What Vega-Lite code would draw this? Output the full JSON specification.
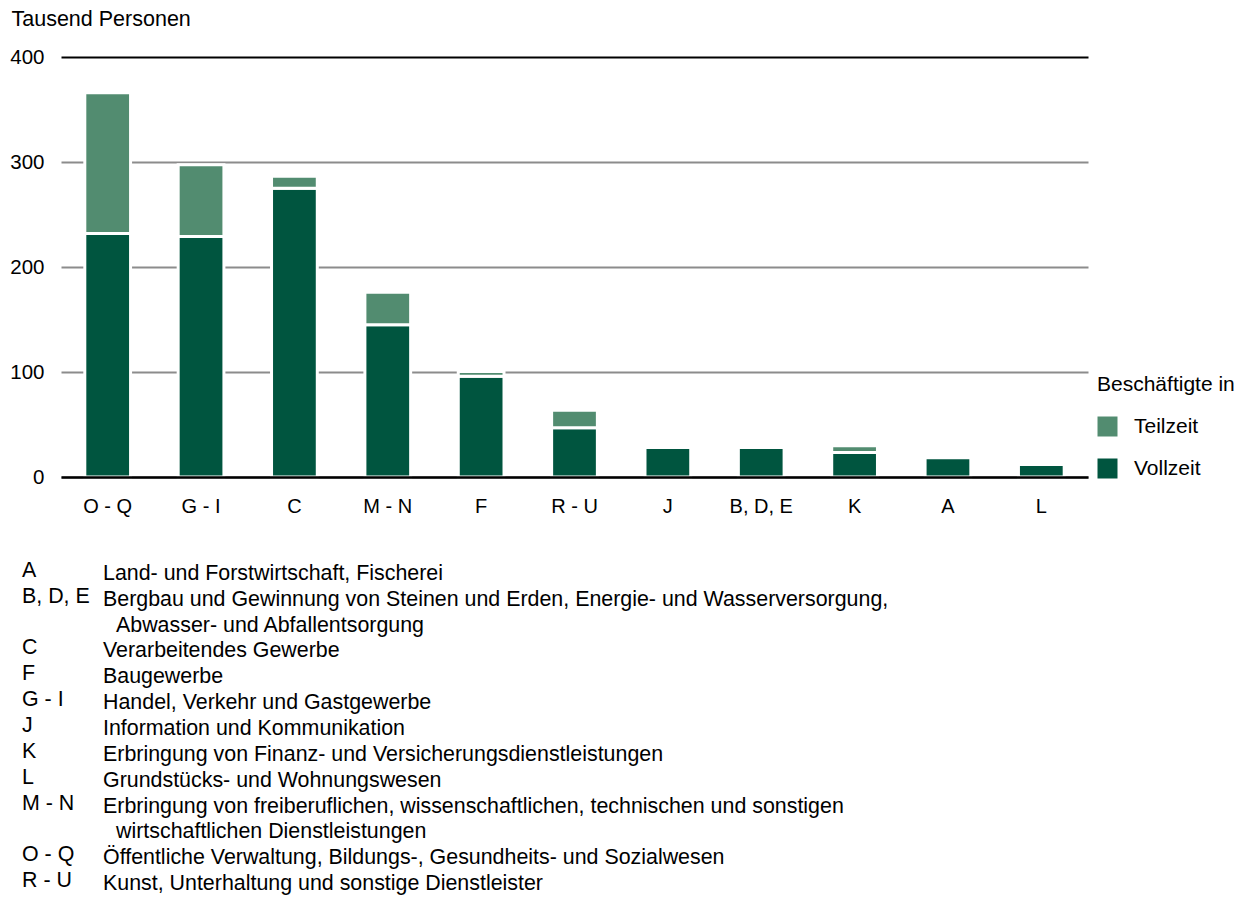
{
  "$schema": "https://vega.github.io/schema/vega-lite/v6.json",
  "padding": {"left": 9, "top": 8, "right": 0, "bottom": 0},
  "spacing": 43,
  "config": {
    "font": "Liberation Sans",
    "view": {"stroke": null},
    "text": {"font": "Liberation Sans"}
  },
  "vconcat": [
    {
      "width": 1027,
      "height": 420,
      "data": {
        "values": [
          {"sector": "O - Q", "type": "Vollzeit", "value": 232},
          {"sector": "O - Q", "type": "Teilzeit", "value": 134},
          {"sector": "G - I", "type": "Vollzeit", "value": 229},
          {"sector": "G - I", "type": "Teilzeit", "value": 68.5},
          {"sector": "C", "type": "Vollzeit", "value": 275},
          {"sector": "C", "type": "Teilzeit", "value": 11.5},
          {"sector": "M - N", "type": "Vollzeit", "value": 145},
          {"sector": "M - N", "type": "Teilzeit", "value": 31},
          {"sector": "F", "type": "Vollzeit", "value": 96},
          {"sector": "F", "type": "Teilzeit", "value": 4.5},
          {"sector": "R - U", "type": "Vollzeit", "value": 47},
          {"sector": "R - U", "type": "Teilzeit", "value": 16.5},
          {"sector": "J", "type": "Vollzeit", "value": 28},
          {"sector": "B, D, E", "type": "Vollzeit", "value": 28.2},
          {"sector": "K", "type": "Vollzeit", "value": 23.4},
          {"sector": "K", "type": "Teilzeit", "value": 6.3},
          {"sector": "A", "type": "Vollzeit", "value": 18.3},
          {"sector": "L", "type": "Vollzeit", "value": 12}
        ]
      },
      "mark": {"type": "bar", "stroke": "white", "strokeWidth": 3},
      "encoding": {
        "x": {
          "field": "sector",
          "type": "nominal",
          "sort": ["O - Q", "G - I", "C", "M - N", "F", "R - U", "J", "B, D, E", "K", "A", "L"],
          "scale": {"paddingInner": 0.51, "paddingOuter": 0.255},
          "axis": {
            "title": null,
            "labelAngle": 0,
            "labelFontSize": 20,
            "labelColor": "black",
            "labelPadding": 19,
            "ticks": false,
            "domainColor": "black",
            "domainWidth": 2.5,
            "zindex": 1
          }
        },
        "y": {
          "field": "value",
          "type": "quantitative",
          "stack": "zero",
          "scale": {"domain": [0, 400]},
          "axis": {
            "title": "Tausend Personen",
            "titleAngle": 0,
            "titleAlign": "left",
            "titleBaseline": "middle",
            "titleX": -50,
            "titleY": -38,
            "titleFontSize": 21.5,
            "titleFontWeight": "normal",
            "titleColor": "black",
            "values": [0, 100, 200, 300, 400],
            "labelFontSize": 20.5,
            "labelColor": "black",
            "labelPadding": 17,
            "ticks": false,
            "domain": false,
            "gridColor": {"condition": {"test": "datum.value >= 400", "value": "black"}, "value": "#8c8c8c"},
            "gridWidth": 2
          }
        },
        "color": {
          "field": "type",
          "type": "nominal",
          "scale": {"domain": ["Teilzeit", "Vollzeit"], "range": ["#528c70", "#00553f"]},
          "legend": {
            "title": "Beschäftigte in",
            "orient": "none",
            "legendX": 1036,
            "legendY": 317,
            "titleFontSize": 21,
            "titleFontWeight": "normal",
            "titleColor": "black",
            "labelFontSize": 21,
            "labelColor": "black",
            "symbolType": "square",
            "symbolSize": 400,
            "symbolStrokeWidth": 0,
            "symbolOpacity": 1,
            "rowPadding": 20,
            "titlePadding": 21,
            "labelOffset": 16
          }
        },
        "order": {"field": "type", "sort": "descending"}
      }
    },
    {
      "width": 1027,
      "height": 336,
      "data": {
        "values": [
          {"row": 1, "code": "A", "text": "Land- und Forstwirtschaft, Fischerei"},
          {"row": 2, "code": "B, D, E", "text": "Bergbau und Gewinnung von Steinen und Erden, Energie- und Wasserversorgung,"},
          {"row": 3, "code": "", "text": "Abwasser- und Abfallentsorgung"},
          {"row": 4, "code": "C", "text": "Verarbeitendes Gewerbe"},
          {"row": 5, "code": "F", "text": "Baugewerbe"},
          {"row": 6, "code": "G - I", "text": "Handel, Verkehr und Gastgewerbe"},
          {"row": 7, "code": "J", "text": "Information und Kommunikation"},
          {"row": 8, "code": "K", "text": "Erbringung von Finanz- und Versicherungsdienstleistungen"},
          {"row": 9, "code": "L", "text": "Grundstücks- und Wohnungswesen"},
          {"row": 10, "code": "M - N", "text": "Erbringung von freiberuflichen, wissenschaftlichen, technischen und sonstigen"},
          {"row": 11, "code": "", "text": "wirtschaftlichen Dienstleistungen"},
          {"row": 12, "code": "O - Q", "text": "Öffentliche Verwaltung, Bildungs-, Gesundheits- und Sozialwesen"},
          {"row": 13, "code": "R - U", "text": "Kunst, Unterhaltung und sonstige Dienstleister"}
        ]
      },
      "encoding": {
        "y": {"field": "row", "type": "ordinal", "axis": null, "scale": {"type": "band", "paddingInner": 0, "paddingOuter": 0}}
      },
      "layer": [
        {
          "mark": {"type": "text", "align": "left", "baseline": "middle", "fontSize": 21.4, "color": "black", "x": -39, "dy": -3},
          "encoding": {"text": {"field": "code"}}
        },
        {
          "transform": [{"filter": "datum.code !== ''"}],
          "mark": {"type": "text", "align": "left", "baseline": "middle", "fontSize": 21.4, "color": "black", "x": 42},
          "encoding": {"text": {"field": "text"}}
        },
        {
          "transform": [{"filter": "datum.code === ''"}],
          "mark": {"type": "text", "align": "left", "baseline": "middle", "fontSize": 21.4, "color": "black", "x": 42, "dx": 13},
          "encoding": {"text": {"field": "text"}}
        }
      ]
    }
  ]
}
